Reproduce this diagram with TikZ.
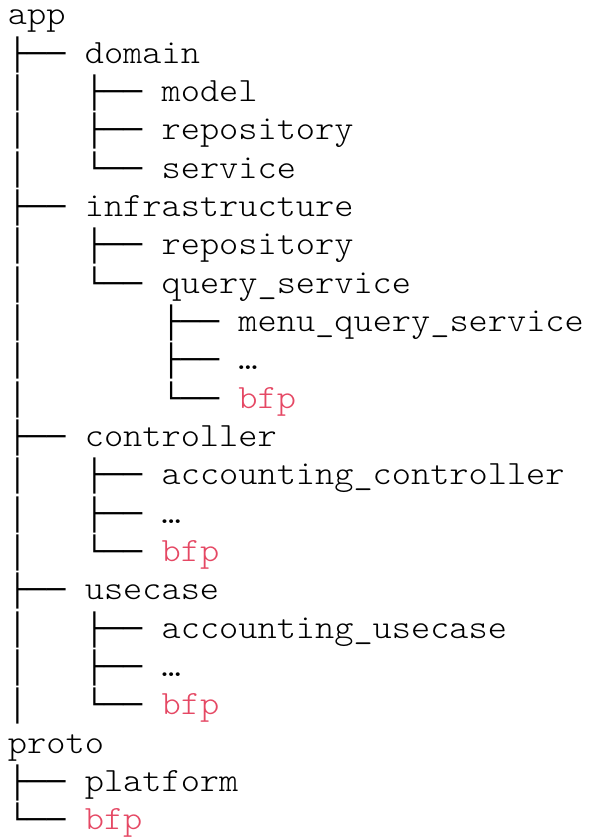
\documentclass[tikz,border=0pt]{standalone}
\usepackage{fontspec}
\newfontfamily\boxfont{Liberation Mono}
\newfontfamily\txtfont[FakeStretch=1.075]{Latin Modern Mono Light}
\definecolor{bfpred}{RGB}{229,72,100}
\newcommand\bx[1]{{\boxfont\fontsize{32}{38}\selectfont #1}}
\newcommand\brTee{\bx{├──~}}
\newcommand\brEll{\bx{└──~}}
\newcommand\brBar{\bx{│~~~}}
\newcommand\brGap{\bx{~~~~}}
\newcommand\hl[1]{\textcolor{bfpred}{#1}}
\tikzset{treeline/.style={anchor=base west, inner sep=0pt, outer sep=0pt, font=\txtfont\fontsize{34}{38}\selectfont}}
\begin{document}
\begin{tikzpicture}[x=1pt,y=1pt]
\useasboundingbox (0,0) rectangle (589,837);
\node[treeline] (l1)  at (8,812)    {app};
\node[treeline] (l2)  at (8,773.67) {\brTee domain};
\node[treeline] (l3)  at (8,735.33) {\brBar\brTee model};
\node[treeline] (l4)  at (8,697)    {\brBar\brTee repository};
\node[treeline] (l5)  at (8,658.67) {\brBar\brEll service};
\node[treeline] (l6)  at (8,620.33) {\brTee infrastructure};
\node[treeline] (l7)  at (8,582)    {\brBar\brTee repository};
\node[treeline] (l8)  at (8,543.67) {\brBar\brEll query\_service};
\node[treeline] (l9)  at (8,505.33) {\brBar\brGap\brTee menu\_query\_service};
\node[treeline] (l10) at (8,467)    {\brBar\brGap\brTee …};
\node[treeline] (l11) at (8,428.67) {\brBar\brGap\brEll \hl{bfp}};
\node[treeline] (l12) at (8,390.33) {\brTee controller};
\node[treeline] (l13) at (8,352)    {\brBar\brTee accounting\_controller};
\node[treeline] (l14) at (8,313.67) {\brBar\brTee …};
\node[treeline] (l15) at (8,275.33) {\brBar\brEll \hl{bfp}};
\node[treeline] (l16) at (8,237)    {\brTee usecase};
\node[treeline] (l17) at (8,198.67) {\brBar\brTee accounting\_usecase};
\node[treeline] (l18) at (8,160.33) {\brBar\brTee …};
\node[treeline] (l19) at (8,122)    {\brBar\brEll \hl{bfp}};
\node[treeline] (l20) at (8,83.67)  {proto};
\node[treeline] (l21) at (8,45.33)  {\brTee platform};
\node[treeline] (l22) at (8,7)      {\brEll \hl{bfp}};
\end{tikzpicture}
\end{document}
